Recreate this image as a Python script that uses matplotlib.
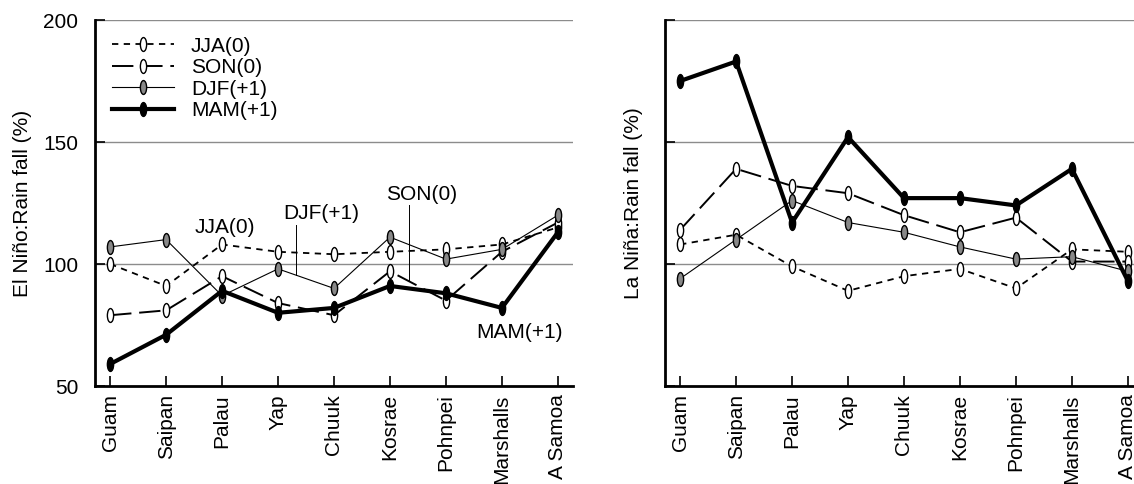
import matplotlib.pyplot as plt
from matplotlib.path import Path
from matplotlib.transforms import Affine2D

plt.rcParams['font.family'] = ['Liberation Sans', 'DejaVu Sans']

sites = ['Guam', 'Saipan', 'Palau', 'Yap', 'Chuuk', 'Kosrae', 'Pohnpei', 'Marshalls', 'A Samoa']
seasons = ['JJA(0)', 'SON(0)', 'DJF(+1)', 'MAM(+1)']

# El Nino rainfall (% of normal)
nino_jja = [100, 91, 108, 105, 104, 105, 106, 108, 115]
nino_son = [79, 81, 95, 84, 79, 97, 85, 105, 117]
nino_djf = [107, 110, 87, 98, 90, 111, 102, 106, 120]
nino_mam = [59, 71, 89, 80, 82, 91, 88, 82, 113]

# La Nina rainfall (% of normal)
nina_jja = [108, 112, 99, 89, 95, 98, 90, 106, 105]
nina_son = [114, 139, 132, 129, 120, 113, 119, 101, 101]
nina_djf = [94, 110, 126, 117, 113, 107, 102, 103, 97]
nina_mam = [175, 183, 117, 152, 127, 127, 124, 139, 93]

# narrow vertical ellipse marker
ell = Path.unit_circle().transformed(Affine2D().scale(0.45, 1.0))

styles = [
    dict(ls=(0, (3.5, 3)), lw=1.3, mfc='white'),
    dict(ls=(0, (11, 4)), lw=1.4, mfc='white'),
    dict(ls='-', lw=0.8, mfc='#888888'),
    dict(ls='-', lw=3.0, mfc='black'),
]

fs = 15

fig = plt.figure(figsize=(11.34, 4.84), dpi=100)
ax1 = fig.add_axes([95 / 1134, 98 / 484, 478 / 1134, 366 / 484])
ax2 = fig.add_axes([665 / 1134, 98 / 484, 478 / 1134, 366 / 484])

x = range(len(sites))
for ax, data, ylab in [(ax1, [nino_jja, nino_son, nino_djf, nino_mam], 'El Niño:Rain fall (%)'),
                       (ax2, [nina_jja, nina_son, nina_djf, nina_mam], 'La Niña:Rain fall (%)')]:
    for vals, st, lab in zip(data, styles, seasons):
        ax.plot(x, vals, color='black', linestyle=st['ls'], linewidth=st['lw'],
                marker=ell, markersize=10, markerfacecolor=st['mfc'],
                markeredgecolor='black', markeredgewidth=1.0, label=lab, zorder=3)
    for g in [100, 150, 200]:
        ax.axhline(g, color='#8c8c8c', lw=1.0, zorder=1)
    ax.set_xlim(-0.27, 8.27)
    ax.set_ylim(50, 200)
    ax.set_yticks([50, 100, 150, 200])
    ax.set_xticks(list(x))
    ax.set_xticklabels(sites, rotation=90, fontsize=fs)
    ax.tick_params(axis='both', direction='in', length=7, width=1.2, labelsize=fs)
    ax.tick_params(axis='x', pad=6)
    ax.tick_params(axis='y', pad=12)
    for s in ['top', 'right']:
        ax.spines[s].set_visible(False)
    for s in ['left', 'bottom']:
        ax.spines[s].set_linewidth(2)

ax1.set_ylabel('El Niño:Rain fall (%)', fontsize=fs, labelpad=8)
ax2.set_yticklabels([])
ax2.set_ylabel('La Niña:Rain fall (%)', fontsize=fs, labelpad=4)

ax1.legend(loc='upper left', bbox_to_anchor=(0.0, 1.0), frameon=False, fontsize=fs,
           handlelength=3.0, labelspacing=0.12, borderaxespad=0.4, handletextpad=0.8)

# labels on the El Nino panel
ax1.text(2.05, 114.8, 'JJA(0)', fontsize=fs, ha='center', va='center')
ax1.text(3.78, 120.9, 'DJF(+1)', fontsize=fs, ha='center', va='center')
ax1.plot([3.32, 3.32], [116, 95.5], color='black', lw=0.7)
ax1.text(5.57, 128.3, 'SON(0)', fontsize=fs, ha='center', va='center')
ax1.plot([5.34, 5.34], [124.2, 93.4], color='black', lw=0.7)
ax1.text(7.32, 72.1, 'MAM(+1)', fontsize=fs, ha='center', va='center')

fig.savefig('out.png', dpi=100)
